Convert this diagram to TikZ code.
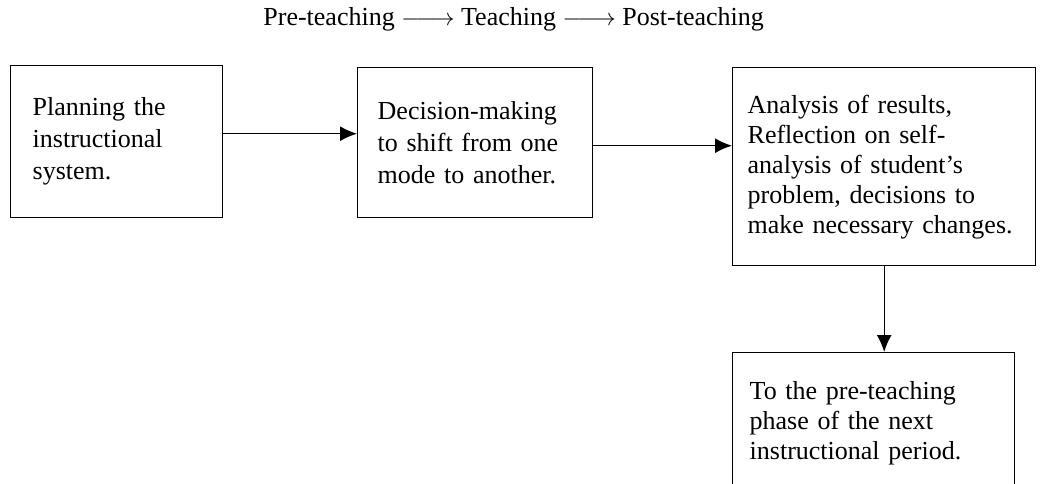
\documentclass[tikz,border=0pt]{standalone}
\usepackage{fontspec}
\setmainfont{Liberation Serif}
\usetikzlibrary{arrows.meta,positioning}
\newcommand{\phasearrow}{$\relbar\joinrel\relbar\joinrel\rightarrow$}
\tikzset{
	box/.style={draw, line width=0.7pt, align=left, anchor=north west, inner ysep=0pt, font=\fontsize{13}{16}\selectfont},
	tightbox/.style={box, font=\fontsize{13}{15}\selectfont},
	flow/.style={-{Latex[length=8.5pt,width=7.5pt]}, line width=0.7pt}
}
\begin{document}
\begin{tikzpicture}[x=0.5pt,y=-0.5pt]
		\useasboundingbox (0,0) rectangle (1040,483);
		\clip (0,0) rectangle (1040,483);

		\node[anchor=base west, inner sep=0pt, font=\fontsize{13}{16}\selectfont] (phases) at (263,25) {Pre-teaching \phasearrow{} Teaching \phasearrow{} Post-teaching};

		\node[box, text width=84pt, inner xsep=11pt, minimum height=76pt] (plan) at (10,65) {Planning the\\ instructional\\ system.};
		\node[box, text width=97.5pt, inner xsep=10pt, minimum height=75pt] (decide) at (357,67) {Decision-making\\ to shift from one\\ mode to another.};
		\node[tightbox, text width=136.5pt, inner xsep=7.5pt, minimum height=99pt] (analysis) at (732,67) {Analysis of results,\\ Reflection on self-\\ analysis of student's\\ problem, decisions to\\ make necessary changes.};
		\node[tightbox, text width=124pt, inner xsep=8.5pt, minimum height=71pt] (next) at (732,352) {To the pre-teaching\\ phase of the next\\ instructional period.};

		\draw[flow] ([yshift=4pt]plan.east) -- ([yshift=4pt]plan.east -| decide.west);
		\draw[flow] ([yshift=-1.5pt]decide.east) -- ([yshift=-1.5pt]decide.east -| analysis.west);
		\draw[flow] (analysis.south) -- (analysis.south |- next.north);
	\end{tikzpicture}
\end{document}
